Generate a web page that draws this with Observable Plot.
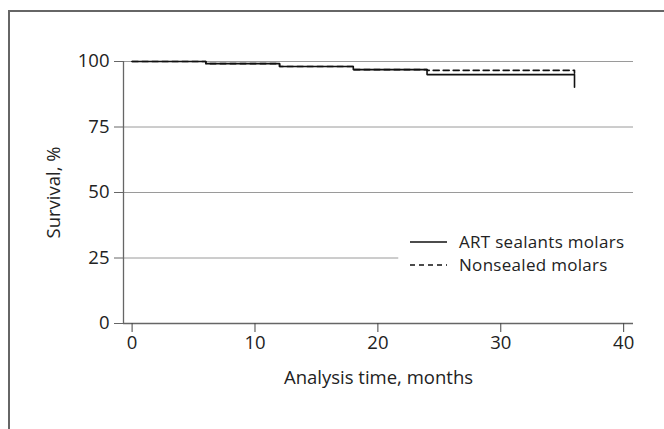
<!DOCTYPE html>
<html>
<head>
<meta charset="utf-8">
<script src="https://cdn.jsdelivr.net/npm/d3@7"></script>
<script src="https://cdn.jsdelivr.net/npm/@observablehq/plot@0.6"></script>
<style>
  html, body { margin: 0; padding: 0; background: #fff; }
  #wrap { position: relative; width: 664px; height: 429px; overflow: hidden; font-family: "Open Sans", sans-serif; }
  #frame { position: absolute; left: 8px; top: 10px; width: 700px; height: 500px; border-top: 2px solid #666; border-left: 2px solid #666; box-sizing: border-box; pointer-events: none; }
  #legend { position: absolute; left: 410px; top: 230px; font-size: 17px; color: #222; }
  #legend .row { display: flex; align-items: center; height: 23.2px; }
  #legend .row span { display: inline-block; line-height: 23.2px; letter-spacing: 0.3px; }
  #legend svg { margin-right: 12px; }
</style>
</head>
<body>
<div id="wrap">
  <div id="chart"></div>
  <div id="frame"></div>
  <div id="legend"></div>
</div>
<script>
// Data
const months = [0, 6, 12, 18, 24, 36];
const artSealants = [100, 99.2, 98.1, 96.9, 95.0, 90.2];
const nonsealed = [100, 99.2, 98.1, 96.9, 96.6, 95.5];
const seriesNames = ["ART sealants molars", "Nonsealed molars"];
const xTicks = [0, 10, 20, 30, 40];
const yTicks = [0, 25, 50, 75, 100];
const gridFull = [50, 75, 100];
const gridShort = [25];
const xDomain = [-0.7, 40.8];
const gridShortEnd = 21.7;

const solidData = months.map((m, i) => ({t: m, s: artSealants[i]}));
const dashData = months.map((m, i) => ({t: m, s: nonsealed[i]}));

const ink = "#222";
const gridColor = "#9a9a9a";
const fs = 18.5;

const plot = Plot.plot({
  width: 664,
  height: 429,
  marginLeft: 123,
  marginRight: 31,
  marginTop: 61,
  marginBottom: 106,
  style: {fontFamily: "'Open Sans', sans-serif", fontSize: fs + "px", color: ink, background: "transparent"},
  x: {domain: xDomain},
  y: {domain: [0, 100]},
  marks: [
    Plot.ruleY(gridFull, {stroke: gridColor, strokeWidth: 1}),
    Plot.ruleY(gridShort, {x1: xDomain[0], x2: gridShortEnd, stroke: gridColor, strokeWidth: 1}),
    Plot.ruleY([0], {stroke: "#666", strokeWidth: 1.3}),
    Plot.ruleX([xDomain[0]], {y1: 0, y2: 100, stroke: "#666", strokeWidth: 1.3}),
    Plot.axisX({ticks: xTicks, tickSize: 9, tickPadding: 3, stroke: "#444", fill: ink, fontSize: fs,
      label: "Analysis time, months", labelAnchor: "center", labelOffset: 60, labelArrow: "none", tickFormat: d => String(d)}),
    Plot.axisY({ticks: yTicks, tickSize: 9, tickPadding: 5, stroke: "#666", fill: ink, fontSize: fs,
      label: "Survival, %", labelAnchor: "center", labelOffset: 77, labelArrow: "none"}),
    Plot.line(dashData, {x: "t", y: "s", curve: "step-after", stroke: "#111", strokeWidth: 1.6, strokeDasharray: "6,4"}),
    Plot.line(solidData, {x: "t", y: "s", curve: "step-after", stroke: "#111", strokeWidth: 1.6})
  ]
});
document.getElementById("chart").appendChild(plot);

// Legend
const legend = document.getElementById("legend");
const dashes = [null, "5,4"];
seriesNames.forEach((name, i) => {
  const row = document.createElement("div");
  row.className = "row";
  row.innerHTML = `<svg width="37" height="4"><line x1="0" y1="2" x2="37" y2="2" stroke="#111" stroke-width="1.6" ${dashes[i] ? `stroke-dasharray="${dashes[i]}"` : ""}/></svg><span>${name}</span>`;
  legend.appendChild(row);
});
</script>
</body>
</html>
